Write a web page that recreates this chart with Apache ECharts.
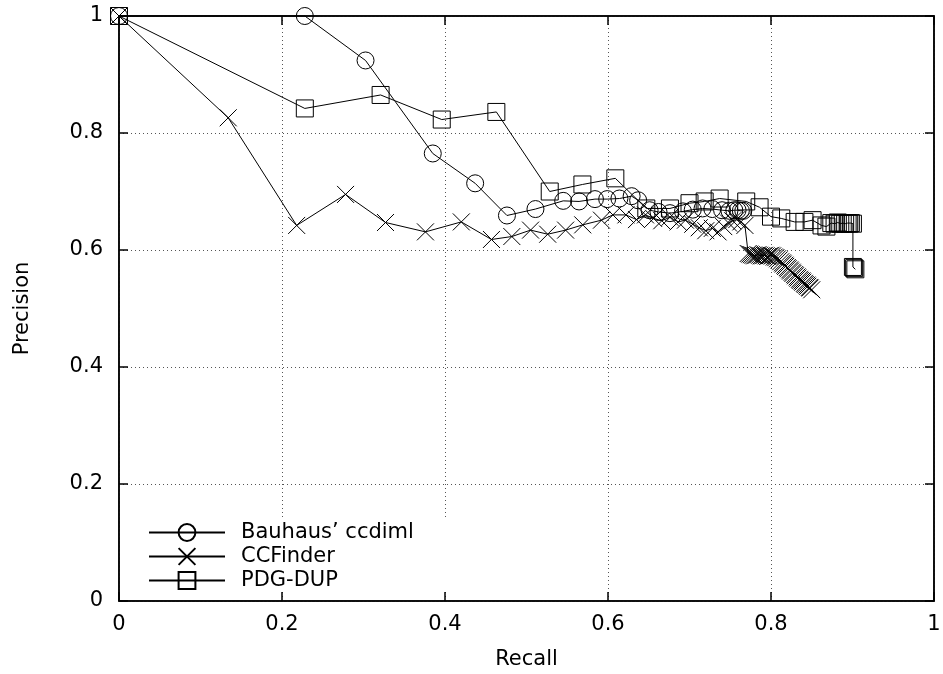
<!DOCTYPE html>
<html>
<head>
<meta charset="utf-8">
<script src="https://cdn.jsdelivr.net/npm/echarts@6/dist/echarts.min.js"></script>
<style>
  html, body { margin: 0; padding: 0; background: #fff; }
  #chart { width: 943px; height: 674px; }
</style>
</head>
<body>
<div id="chart"></div>
<script>
// Precision / recall curves of three clone detectors
const seriesNames = ["Bauhaus’ ccdiml", "CCFinder", "PDG-DUP"];

const bauhausRecall = [0, 0.228, 0.3025, 0.385, 0.437, 0.476, 0.511, 0.545, 0.5645, 0.584, 0.599, 0.614, 0.629, 0.637, 0.651, 0.662, 0.676, 0.692, 0.704, 0.716, 0.728, 0.740, 0.749, 0.755, 0.759, 0.763, 0.766];
const bauhausPrecision = [1, 1, 0.924, 0.765, 0.714, 0.659, 0.670, 0.684, 0.683, 0.687, 0.687, 0.688, 0.692, 0.685, 0.668, 0.665, 0.663, 0.666, 0.669, 0.671, 0.670, 0.668, 0.667, 0.668, 0.668, 0.667, 0.667];

const ccfinderRecall = [0, 0.134, 0.218, 0.278, 0.327, 0.376, 0.420, 0.457, 0.482, 0.505, 0.526, 0.548, 0.569, 0.592, 0.606, 0.622, 0.635, 0.646, 0.656, 0.666, 0.676, 0.686, 0.695, 0.704, 0.712, 0.720, 0.728, 0.735, 0.742, 0.748, 0.753, 0.758, 0.763, 0.768, 0.772, 0.774, 0.776, 0.778, 0.780, 0.782, 0.784, 0.786, 0.788, 0.790, 0.792, 0.794, 0.796, 0.798, 0.800, 0.802, 0.804, 0.806, 0.808, 0.810, 0.812, 0.814, 0.815, 0.817, 0.818, 0.820, 0.821, 0.823, 0.824, 0.826, 0.827, 0.829, 0.830, 0.832, 0.833, 0.835, 0.836, 0.838, 0.839, 0.841, 0.842, 0.844, 0.845, 0.847, 0.848, 0.850];
const ccfinderPrecision = [1, 0.826, 0.642, 0.695, 0.647, 0.631, 0.648, 0.618, 0.623, 0.634, 0.627, 0.634, 0.643, 0.651, 0.660, 0.660, 0.652, 0.660, 0.654, 0.650, 0.656, 0.648, 0.651, 0.644, 0.638, 0.633, 0.637, 0.631, 0.640, 0.646, 0.650, 0.652, 0.648, 0.642, 0.594, 0.593, 0.592, 0.591, 0.590, 0.591, 0.592, 0.591, 0.590, 0.590, 0.591, 0.590, 0.589, 0.590, 0.591, 0.590, 0.588, 0.587, 0.585, 0.583, 0.580, 0.578, 0.576, 0.574, 0.572, 0.570, 0.568, 0.566, 0.564, 0.562, 0.560, 0.558, 0.556, 0.554, 0.552, 0.550, 0.548, 0.547, 0.545, 0.543, 0.541, 0.540, 0.538, 0.536, 0.535, 0.532];

const pdgRecall = [0, 0.228, 0.321, 0.396, 0.463, 0.5285, 0.5686, 0.609, 0.647, 0.676, 0.700, 0.7186, 0.737, 0.7696, 0.786, 0.800, 0.8126, 0.829, 0.841, 0.851, 0.862, 0.868, 0.874, 0.878, 0.882, 0.885, 0.888, 0.891, 0.894, 0.896, 0.898, 0.9005, 0.9005, 0.902, 0.9035];
const pdgPrecision = [1, 0.842, 0.865, 0.823, 0.836, 0.700, 0.712, 0.7225, 0.671, 0.671, 0.680, 0.683, 0.688, 0.683, 0.673, 0.657, 0.654, 0.648, 0.648, 0.651, 0.642, 0.640, 0.646, 0.645, 0.647, 0.645, 0.646, 0.645, 0.646, 0.645, 0.646, 0.645, 0.571, 0.569, 0.567];

const axisTicks = [0, 0.2, 0.4, 0.6, 0.8, 1];

const FONT = 'DejaVu Sans';
const FONT_SIZE = 21;
const pairs = (xs, ys) => xs.map((x, i) => [x, ys[i]]);

const crossPath = 'path://M0,0L10,10M10,0L0,10';

function curve(name, symbol, xs, ys) {
  return {
    name: name,
    type: 'line',
    data: pairs(xs, ys),
    symbol: symbol,
    symbolSize: 17,
    showAllSymbol: true,
    clip: false,
    lineStyle: { color: '#000', width: 1 },
    itemStyle: { color: 'rgba(0,0,0,0)', borderColor: '#000', borderWidth: 1 },
    emphasis: { disabled: true },
    z: 3
  };
}

function makeAxis(extra) {
  return Object.assign({
    type: 'value',
    show: true,
    min: axisTicks[0],
    max: axisTicks[axisTicks.length - 1],
    interval: 0.2,
    axisLine: { show: true, onZero: false, lineStyle: { color: '#000', width: 1.5 } },
    axisTick: { show: true, inside: true, length: 9, lineStyle: { color: '#000', width: 1.5 } }
  }, extra);
}

const textStyle = { fontFamily: FONT, fontSize: FONT_SIZE, color: '#000' };
const gridLine = { show: true, lineStyle: { color: '#555', width: 1, type: [1, 3] } };

const chart = echarts.init(document.getElementById('chart'), null, { renderer: 'canvas' });
chart.setOption({
  animation: false,
  backgroundColor: '#fff',
  grid: {
    left: 119, right: 9, top: 16, bottom: 73,
    containLabel: false,
    outerBoundsMode: 'none',
    show: true,
    borderColor: '#000',
    borderWidth: 1.5,
    backgroundColor: 'rgba(0,0,0,0)'
  },
  xAxis: [
    makeAxis({
      position: 'bottom',
      name: 'Recall',
      nameLocation: 'middle',
      nameGap: 48,
      nameTextStyle: Object.assign({}, textStyle),
      axisLabel: Object.assign({ margin: 13 }, textStyle),
      splitLine: gridLine
    }),
    makeAxis({
      position: 'top',
      axisLabel: { show: false },
      splitLine: { show: false }
    })
  ],
  yAxis: [
    makeAxis({
      position: 'left',
      name: 'Precision',
      nameLocation: 'middle',
      nameGap: 86,
      nameTextStyle: Object.assign({}, textStyle),
      axisLabel: Object.assign({ margin: 16 }, textStyle),
      splitLine: gridLine
    }),
    makeAxis({
      position: 'right',
      axisLabel: { show: false },
      splitLine: { show: false }
    })
  ],
  legend: {
    orient: 'vertical',
    left: 148,
    top: 522,
    padding: 0,
    itemWidth: 76,
    itemHeight: 21,
    itemGap: 3,
    selectedMode: false,
    textStyle: Object.assign({ padding: [0, 0, 0, 11] }, textStyle),
    data: seriesNames
  },
  // key area: keeps the dotted grid lines out from behind the legend
  graphic: [{
    type: 'rect',
    z: 1,
    shape: { x: 121, y: 517, width: 340, height: 74 },
    style: { fill: '#fff' },
    silent: true
  }],
  series: [
    curve(seriesNames[0], 'circle', bauhausRecall, bauhausPrecision),
    curve(seriesNames[1], crossPath, ccfinderRecall, ccfinderPrecision),
    curve(seriesNames[2], 'rect', pdgRecall, pdgPrecision),
    // binds the frame axes on the top and right edges
    { type: 'line', xAxisIndex: 1, yAxisIndex: 1, data: [], silent: true }
  ]
});
</script>
</body>
</html>
